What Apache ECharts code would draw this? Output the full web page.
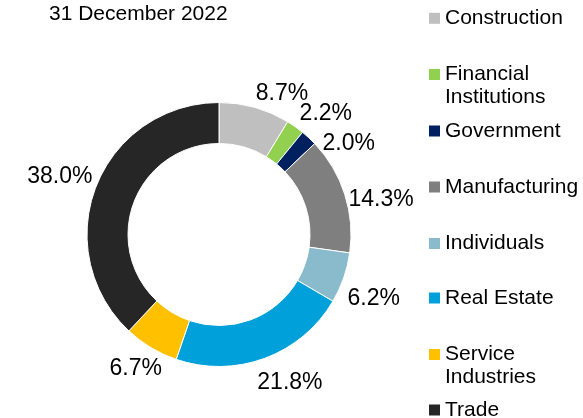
<!DOCTYPE html>
<html>
<head>
<meta charset="utf-8">
<script src="https://cdn.jsdelivr.net/npm/echarts@6/dist/echarts.min.js"></script>
<style>
html,body{margin:0;padding:0;background:#fff;}
#c{width:583px;height:418px;}
</style>
</head>
<body>
<div id="c"></div>
<script>
// ---- data ----
const title = '31 December 2022';
const categories = ['Construction', 'Financial Institutions', 'Government', 'Manufacturing', 'Individuals', 'Real Estate', 'Service Industries', 'Trade'];
const legendLabels = ['Construction', 'Financial\nInstitutions', 'Government', 'Manufacturing', 'Individuals', 'Real Estate', 'Service\nIndustries', 'Trade'];
const values = [8.7, 2.2, 2.0, 14.3, 6.2, 21.8, 6.7, 38.0];

// ---- style / layout ----
const colors = ['#BFBFBF', '#92D050', '#002060', '#7F7F7F', '#8ABBCC', '#00A0DA', '#FFC000', '#262626'];
const CX = 219, CY = 234.5, R_IN = 91, R_OUT = 132, LABEL_R = 136, LABEL_DY = 4;
// small per-label nudges (px) to mimic the reference's label placement
const labelNudge = [[0, -2], [2, -2], [11, 16], [0, 14], [0, 4], [-9, 5], [13, 2], [0, 0]];
const legendIconCenters = [18.3, 74.5, 131, 187, 243.5, 298, 354.5, 410];
const FONT = '"Liberation Sans", Arial, sans-serif';
const LH = 23;

const total = values.reduce((a, b) => a + b, 0);
const legends = categories.map((name, i) => {
  const twoLine = legendLabels[i].indexOf('\n') >= 0;
  const half = twoLine ? LH * 1.5 : LH / 2;
  return {
    orient: 'vertical',
    left: 429,
    top: legendIconCenters[i] - half,
    padding: 0,
    itemWidth: 11,
    itemHeight: 11,
    itemGap: 0,
    icon: 'rect',
    itemStyle: {borderWidth: 0},
    selectedMode: false,
    data: [name],
    formatter: () => (twoLine ? '\n' : '') + legendLabels[i],
    textStyle: {
      fontFamily: FONT,
      fontSize: 21,
      color: '#000',
      lineHeight: LH
    }
  };
});

const chart = echarts.init(document.getElementById('c'), null, {renderer: 'canvas'});
chart.setOption({
  animation: false,
  backgroundColor: '#fff',
  title: {
    text: title,
    left: 49,
    top: 4,
    padding: 0,
    textStyle: {fontFamily: FONT, fontSize: 21, fontWeight: 'normal', color: '#000'}
  },
  legend: legends,
  series: [{
    type: 'pie',
    center: [CX, CY],
    radius: [R_IN, R_OUT],
    startAngle: 90,
    clockwise: true,
    avoidLabelOverlap: false,
    itemStyle: {borderColor: '#fff', borderWidth: 1},
    label: {
      show: true,
      position: 'outside',
      formatter: p => p.value.toFixed(1) + '%',
      fontFamily: FONT,
      fontSize: 23,
      color: '#000'
    },
    labelLine: {show: false},
    labelLayout: function (p) {
      const i = p.dataIndex;
      let cum = 0;
      for (let k = 0; k < i; k++) cum += values[k];
      const mid = (cum + values[i] / 2) / total * Math.PI * 2;
      const ux = Math.sin(mid), uy = -Math.cos(mid);
      return {
        x: CX + ux * LABEL_R + labelNudge[i][0],
        y: CY + uy * LABEL_R + LABEL_DY + labelNudge[i][1],
        align: ux >= 0 ? 'left' : 'right',
        verticalAlign: uy < 0 ? 'bottom' : 'top'
      };
    },
    emphasis: {disabled: true},
    data: categories.map((name, i) => ({name: name, value: values[i], itemStyle: {color: colors[i]}}))
  }]
});
</script>
</body>
</html>
